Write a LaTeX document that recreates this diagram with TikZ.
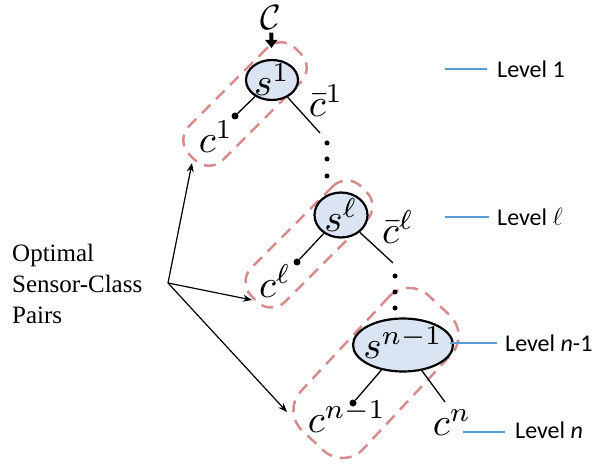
\documentclass[tikz,border=0pt]{standalone}
\usepackage{fontspec}
\newfontfamily\calib{Carlito}
\newfontfamily\timesf{Liberation Serif}
\usetikzlibrary{arrows.meta,shapes.geometric}
\definecolor{dashpink}{RGB}{214,140,140}
\definecolor{nodeblue}{RGB}{218,228,242}
\definecolor{levblue}{RGB}{91,155,213}
\begin{document}
\begin{tikzpicture}[x=1pt,y=-1pt,
  sensor/.style={ellipse,draw=black,line width=2.2pt,fill=nodeblue,inner sep=0pt},
  mlabel/.style={inner sep=0pt,scale=3.9},
  pairbox/.style={rectangle,draw=dashpink,line width=2.5pt,dash pattern=on 12pt off 8pt,inner sep=0pt},
  dot/.style={circle,fill=black,inner sep=0pt,minimum size=7pt},
  vdot/.style={circle,fill=black,inner sep=0pt,minimum size=5pt},
  tree/.style={line width=1.3pt},
  levline/.style={levblue,line width=1.5pt},
  levtext/.style={anchor=west,inner sep=0pt,font=\calib\fontsize{24}{28}\selectfont},
  ptr/.style={line width=1.2pt,-{Stealth[length=9pt,width=7pt]}},
  bigarrow/.style={line width=4pt,-{Triangle[length=8pt,width=12pt]}}
]
\useasboundingbox (0,0) rectangle (600,465);

% dashed sensor-class pair boxes
\node[pairbox,rotate=45,minimum width=150pt,minimum height=48pt,rounded corners=20pt] (b1) at (245,104) {};
\node[pairbox,rotate=45,minimum width=155pt,minimum height=48pt,rounded corners=20pt] (b2) at (309,244) {};
\node[pairbox,rotate=47,minimum width=185pt,minimum height=85pt,rounded corners=28pt] (b3) at (376,373) {};

% top class set
\node[mlabel,scale=0.9] (C) at (271,18) {$\mathcal{C}$};

% sensors
\node[sensor,minimum width=52pt,minimum height=40pt] (s1) at (272,80) {};
\node[mlabel] (s1t) at (s1) {$s^1$};
\node[sensor,minimum width=53pt,minimum height=45pt] (sl) at (341,215) {};
\node[mlabel] (slt) at (sl) {$s^\ell$};
\node[sensor,minimum width=100pt,minimum height=53pt] (sn) at (403,345) {};
\node[mlabel] (snt) at (403,343) {$s^{n-1}$};

\draw[bigarrow,shorten <=2pt,shorten >=11pt] (C) -- (s1);

% level 1
\node[dot] (d1) at (235,116) {};
\node[mlabel] (c1) at (216,137) {$c^1$};
\node[mlabel] (cb1) at (326,101) {$\bar{c}^1$};
\coordinate (e1) at (320,133);
\draw[tree] (s1) -- (d1);
\draw[tree] (s1) -- (e1);
\node[vdot] (v1a) at (327,143) {};
\node[vdot] (v1b) at (327,159) {};
\node[vdot] (v1c) at (327,176) {};

% level l
\node[dot] (dl) at (297,262) {};
\node[mlabel] (cl) at (275,281) {$c^\ell$};
\node[mlabel] (cbl) at (398,227) {$\bar{c}^\ell$};
\coordinate (el) at (393,263);
\draw[tree] (sl) -- (dl);
\draw[tree] (sl) -- (el);
\node[vdot] (vla) at (395,276) {};
\node[vdot] (vlb) at (395,292) {};
\node[vdot] (vlc) at (395,308) {};

% level n-1 / n
\node[dot] (dn) at (353,403) {};
\node[mlabel] (cn1) at (347,417) {$c^{n-1}$};
\node[mlabel] (cn) at (452,423) {$c^n$};
\coordinate (en) at (445,402);
\draw[tree] (sn) -- (dn);
\draw[tree] (sn) -- (en);

% level labels
\coordinate (l1a) at (445,69); \coordinate (l1b) at (487,69);
\draw[levline] (l1a) -- (l1b);
\node[levtext] (lev1) at (497,69) {Level 1};
\coordinate (l2a) at (445,217); \coordinate (l2b) at (489,217);
\draw[levline] (l2a) -- (l2b);
\node[levtext] (levl) at (497,217) {Level $\ell$};
\coordinate (l3a) at (450,343); \coordinate (l3b) at (497,343);
\draw[levline] (l3a) -- (l3b);
\node[levtext] (levn1) at (505,343) {Level \textit{n}-1};
\coordinate (l4a) at (463,432); \coordinate (l4b) at (505,432);
\draw[levline] (l4a) -- (l4b);
\node[levtext] (levn) at (515,430) {Level \textit{n}};

% optimal pairs annotation
\node[anchor=west,inner sep=0pt,align=left,font=\timesf\fontsize{25}{31}\selectfont] (opt) at (12,284) {Optimal\\Sensor-Class\\Pairs};
\coordinate (o) at (168,283);
\coordinate (t1) at (192,163);
\coordinate (t2) at (252,300);
\coordinate (t3) at (287,412);
\draw[ptr] (o) -- (t1);
\draw[ptr] (o) -- (t2);
\draw[ptr] (o) -- (t3);
\end{tikzpicture}
\end{document}
